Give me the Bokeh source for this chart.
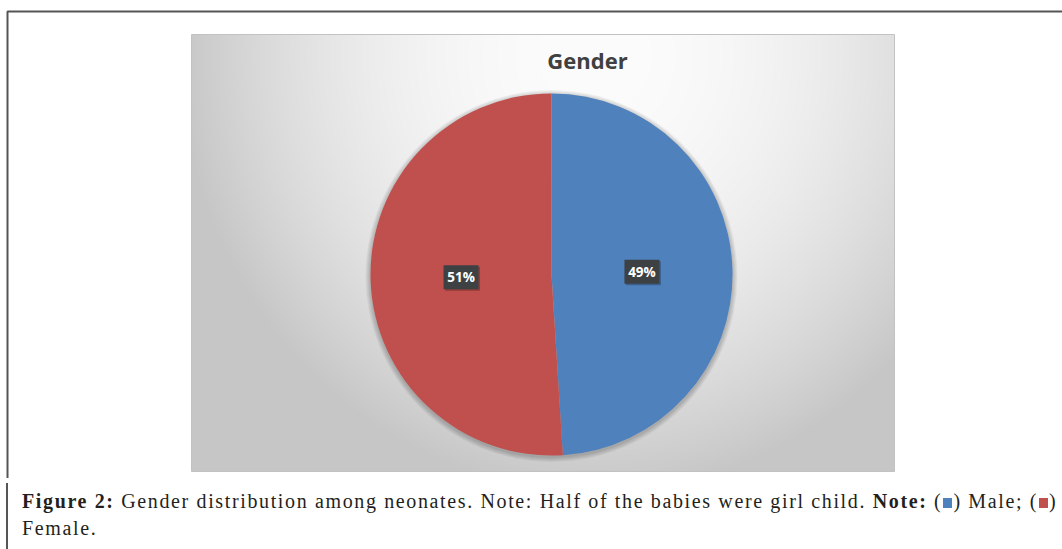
import numpy as np
from bokeh.plotting import figure
from bokeh.models import Range1d, BoxAnnotation, Div, ColumnDataSource
from bokeh.layouts import column
from bokeh.transform import dodge
from bokeh.core.properties import value
from bokeh.embed import file_html
from bokeh.resources import INLINE

# --- data -------------------------------------------------------------
categories = ["Male", "Female"]
counts = [49, 51]
slice_colors = ["#4f81bd", "#c0504d"]
chart_title = "Gender"

# --- canvas (1 data unit == 1 screen pixel) ----------------------------
W, H = 1062, 478


def Y(top):
    """Convert a distance from the top edge into a y data coordinate."""
    return H - top


p = figure(width=W, height=H, x_range=Range1d(0, W), y_range=Range1d(0, H),
           output_backend="svg", toolbar_location=None, min_border=0,
           outline_line_color=None)
p.axis.visible = False
p.grid.visible = False
p.background_fill_color = "white"
p.border_fill_color = "white"

# outer frame around figure + caption
p.add_layout(BoxAnnotation(left=7, right=W + 20, top=Y(11), bottom=-20,
                           fill_alpha=0, line_color="#555555", line_alpha=1,
                           line_width=2))

# chart panel with a soft radial grey gradient
px0, px1, py0, py1 = 191, 894, 34, 471
pw, ph = px1 - px0, py1 - py0
xx, yy = np.meshgrid(np.arange(pw) + px0 + 0.5, np.arange(ph) + py0 + 0.5)
d2 = (xx - 595) ** 2 + ((yy - 55) * 0.95) ** 2
lum = np.clip(252 - 3.1e-4 * d2, 198, 252).astype(np.uint32)
img = (np.uint32(255) << 24) | (lum << 16) | (lum << 8) | lum
img = np.ascontiguousarray(np.flipud(img)).astype(np.uint32)
p.image_rgba(image=[img], x=px0, y=Y(py1), dw=pw, dh=ph)
p.add_layout(BoxAnnotation(left=px0, right=px1, top=Y(py0), bottom=Y(py1),
                           fill_alpha=0, line_color="#c2c2c2", line_alpha=1,
                           line_width=1))

# --- pie ---------------------------------------------------------------
cx, cy, R = 551, Y(274), 181
total = float(sum(counts))
frac = np.array(counts) / total
cum = np.concatenate([[0.0], np.cumsum(frac)])
start = np.pi / 2 - 2 * np.pi * cum[:-1]
end = np.pi / 2 - 2 * np.pi * cum[1:]
mid = (start + end) / 2

src = ColumnDataSource(dict(
    cat=categories,
    start=start,
    end=end,
    color=slice_colors,
    lx=cx + 0.5 * R * np.cos(mid),
    ly=cy + 0.5 * R * np.sin(mid),
    label=[f"{round(f * 100)}%" for f in frac],
))

# soft drop shadow under the pie
for i in range(1, 6):
    p.circle(x=[cx], y=[cy - 1.5], radius=R + i, fill_color="black",
             fill_alpha=0.045, line_color=None)

p.wedge(x=cx, y=cy, radius=R, start_angle="start", end_angle="end",
        direction="clock", fill_color="color", line_color=None, source=src)

# data labels in dark callout boxes
p.rect(x=dodge("lx", 1.5), y=dodge("ly", -1.5), width=35, height=24,
       fill_color="black", fill_alpha=0.25, line_color=None, source=src)
p.rect(x="lx", y="ly", width=35, height=24, fill_color="#3e4144",
       line_color=None, source=src)
p.text(x="lx", y="ly", text="label", text_align="center",
       text_baseline="middle", text_color="white",
       text_font=value("Open Sans"), text_font_style="bold",
       text_font_size="13.5px", source=src)

# chart title
p.text(x=[587], y=[Y(59)], text=[chart_title], text_align="center",
       text_baseline="alphabetic", text_color="#404040",
       text_font=value("Open Sans"), text_font_style="bold",
       text_font_size="22px")

# --- caption -------------------------------------------------------------
def swatch(c):
    return (f'<span style="display:inline-block;width:9px;height:10px;'
            f'background:{c};vertical-align:0px;margin:0 1px"></span>')


caption_html = (
    '<div style="margin-left:1px;border-left:2px solid #555555;'
    'padding-left:14px;padding-top:5px;height:71px;box-sizing:border-box;'
    "font-family:'Liberation Serif';font-size:20px;line-height:27px;"
    'letter-spacing:1.63px;color:#231f20;white-space:nowrap">'
    '<b>Figure 2:</b> Gender distribution among neonates. Note: Half of the '
    'babies were girl child. <b>Note:</b> (' + swatch(slice_colors[0]) +
    ') Male; (' + swatch(slice_colors[1]) + ')<br>Female.</div>'
)
caption = Div(text=caption_html, width=W, height=549 - H)

layout = column(p, caption, spacing=0)
open("out.html", "w").write(file_html(layout, INLINE))
